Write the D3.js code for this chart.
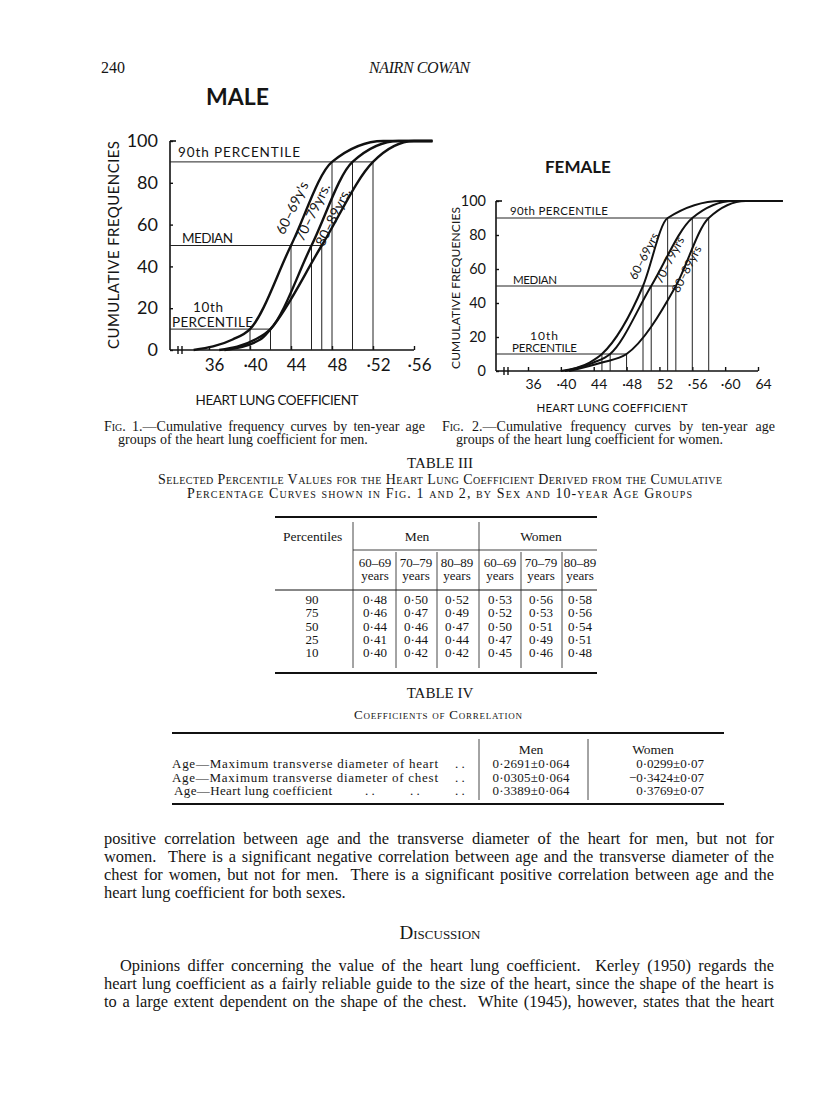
<!DOCTYPE html>
<html>
<head>
<meta charset="utf-8">
<script src="https://cdn.jsdelivr.net/npm/d3@7"></script>
<style>
  body { margin: 0; background: #fff; }
  svg text { fill: #151515; }
  .serif { font-family: 'Liberation Serif', 'Times New Roman', serif; }
  .fig { font-family: Lato, 'Noto Sans', sans-serif; }
</style>
</head>
<body>
<svg id="page" width="816" height="1117"></svg>
<script>
// ---- data ----
const percentiles = [90, 75, 50, 25, 10]
const ageGroups = ['60–69', '70–79', '80–89']

const men6069 = [0.48, 0.46, 0.44, 0.41, 0.40]
const men7079 = [0.50, 0.47, 0.46, 0.44, 0.42]
const men8089 = [0.52, 0.49, 0.47, 0.44, 0.42]
const women6069 = [0.53, 0.52, 0.50, 0.47, 0.45]
const women7079 = [0.56, 0.53, 0.51, 0.49, 0.46]
const women8089 = [0.58, 0.56, 0.54, 0.51, 0.48]

// curve tails: value at 0 %, value at 5 %, value where the curve reaches 100 %
const menTails = [[0.345, 0.383, 0.53], [0.37, 0.405, 0.545], [0.375, 0.41, 0.56]]
const womenTails = [[0.40, 0.435, 0.595], [0.405, 0.44, 0.61], [0.41, 0.45, 0.625]]
const menCurveEnd = 0.578
const womenCurveEnd = 0.67

const freqTicks = [0, 20, 40, 60, 80, 100]
const menTicks = [0.36, 0.40, 0.44, 0.48, 0.52, 0.56]
const menTickLabels = ['36', '·40', '44', '48', '·52', '·56']
const womenTicks = [0.36, 0.40, 0.44, 0.48, 0.52, 0.56, 0.60, 0.64]
const womenTickLabels = ['36', '·40', '44', '·48', '52', '·56', '·60', '64']
const menCurveNames = ['60–69y\'s', '70–79yrs.', '80–89yrs.']
const womenCurveNames = ['60–69yrs', '70–79yrs', '80–89yrs']

const corrLabels = ['Age—Maximum transverse diameter of heart', 'Age—Maximum transverse diameter of chest', 'Age—Heart lung coefficient']
const corrMen = ['0·2691±0·064', '0·0305±0·064', '0·3389±0·064']
const corrWomen = ['0·0299±0·07', '−0·3424±0·07', '0·3769±0·07']

const svg = d3.select('#page')
const fmt = v => d3.format('.2f')(v).replace('.', '·')

// ---- header ----
svg.append('text').attr('class', 'serif').attr('x', 101).attr('y', 73).attr('font-size', 16).text('240')
svg.append('text').attr('class', 'serif').attr('x', 369).attr('y', 73).attr('font-size', 16)
  .attr('font-style', 'italic').attr('textLength', 101).text('NAIRN COWAN')

// ---- one cumulative frequency chart ----
function drawChart(o) {
  const g = svg.append('g').attr('class', 'fig')
  const x = d3.scaleLinear().domain([o.ticks[0], o.ticks[o.ticks.length - 1]]).range(o.xRange)
  const y = d3.scaleLinear().domain([0, 100]).range(o.yRange)
  const y0 = y(0)

  g.append('text').attr('x', o.title[1]).attr('y', o.title[2]).attr('font-size', o.title[3])
    .attr('font-weight', 'bold').text(o.title[0])

  // x axis
  const xAxis = d3.axisBottom(x).tickValues(o.ticks).tickSize(-4).tickSizeOuter(0)
    .tickPadding(o.fs * 0.55).tickFormat((d, i) => o.tickLabels[i])
  const xa = g.append('g').attr('transform', `translate(0,${y0})`).call(xAxis)
  xa.select('.domain').remove()
  xa.selectAll('line').attr('stroke', '#111').attr('stroke-width', 1.4)
  xa.selectAll('text').attr('font-size', o.fs).attr('font-family', 'Lato, sans-serif')
    .attr('fill', '#151515').attr('dx', 5)
  g.append('line').attr('x1', o.axisX).attr('x2', x.range()[1]).attr('y1', y0).attr('y2', y0)
    .attr('stroke', '#111').attr('stroke-width', 1.6)
  // axis break
  g.selectAll('.brk').data([o.axisX + 8, o.axisX + 12]).enter().append('line')
    .attr('x1', d => d).attr('x2', d => d).attr('y1', y0 - 4).attr('y2', y0 + 4)
    .attr('stroke', '#111').attr('stroke-width', 1.4)

  // y axis
  const yAxis = d3.axisLeft(y).tickValues(freqTicks).tickSize(-3).tickSizeOuter(0).tickPadding(o.yPad)
  const ya = g.append('g').attr('transform', `translate(${o.axisX},0)`).call(yAxis)
  ya.select('.domain').remove()
  ya.selectAll('line').attr('stroke', '#111').attr('stroke-width', 1.4)
  ya.selectAll('text').attr('font-size', o.yfs).attr('font-family', 'Lato, sans-serif').attr('fill', '#151515')
  g.append('line').attr('x1', o.axisX).attr('x2', o.axisX).attr('y1', y0).attr('y2', y(100))
    .attr('stroke', '#111').attr('stroke-width', 1.6)
  g.append('line').attr('x1', o.axisX).attr('x2', o.axisX + 6).attr('y1', y(100)).attr('y2', y(100))
    .attr('stroke', '#111').attr('stroke-width', 1.6)

  // axis titles
  g.append('text').attr('transform', `translate(${o.yTitle[0]},${o.yTitle[1]}) rotate(-90)`)
    .attr('text-anchor', 'middle').attr('font-size', o.yTitle[2]).attr('textLength', o.yTitle[3])
    .attr('lengthAdjust', 'spacing').text('CUMULATIVE  FREQUENCIES')
  g.append('text').attr('x', o.xTitle[0]).attr('y', o.xTitle[1]).attr('text-anchor', 'middle')
    .attr('font-size', o.xTitle[2]).attr('textLength', o.xTitle[3]).attr('lengthAdjust', 'spacing')
    .text('HEART LUNG COEFFICIENT')

  // percentile guide lines (90th, median, 10th)
  const guideIdx = [0, 2, 4]
  guideIdx.forEach(k => {
    const p = percentiles[k]
    const vals = o.series.map(s => s[k])
    g.append('line').attr('x1', o.axisX).attr('x2', x(d3.max(vals))).attr('y1', y(p)).attr('y2', y(p))
      .attr('stroke', '#222').attr('stroke-width', 1)
    g.selectAll(null).data(vals).enter().append('line')
      .attr('x1', d => x(d)).attr('x2', d => x(d)).attr('y1', y0).attr('y2', y(p))
      .attr('stroke', '#222').attr('stroke-width', 1)
  })

  // guide labels
  const lab = (txt, dx, p, dy, fs, len) => g.append('text').attr('x', o.axisX + dx).attr('y', y(p) + dy)
    .attr('font-size', fs).attr('textLength', len).attr('lengthAdjust', 'spacing').text(txt)
  o.guideLabels.forEach(d => lab(...d))

  // curves: drawn through the 10th, 50th and 90th percentile values plus the read-off tails
  const line = d3.line().x(d => x(d[0])).y(d => y(d[1])).curve(d3.curveMonotoneX)
  o.series.forEach((s, i) => {
    const t = o.tails[i]
    const pts = [[t[0], 0], [t[1], 5]]
      .concat(guideIdx.map(k => [s[k], percentiles[k]]).reverse())
      .concat([[t[2], 100], [o.curveEnd, 100]])
    g.append('path').attr('d', line(pts)).attr('fill', 'none')
      .attr('stroke', '#111').attr('stroke-width', o.curveW)
  })

  // curve names
  o.names.forEach((n, i) => {
    const p = o.namePos[i]
    g.append('text').attr('transform', `translate(${x(p[0])},${y(p[1])}) rotate(${o.nameAngle})`)
      .attr('text-anchor', 'middle').attr('dy', '0.35em').attr('font-size', o.nameFs).text(n)
  })
}

drawChart({
  title: ['MALE', 206, 105, 23],
  ticks: menTicks, tickLabels: menTickLabels,
  xRange: [209, 414], yRange: [350, 141], axisX: 170,
  fs: 17, yfs: 18, yPad: 12,
  yTitle: [119, 245, 15, 208], xTitle: [277, 405, 13.5, 163],
  series: [men6069, men7079, men8089], tails: menTails, curveEnd: menCurveEnd,
  curveW: 2.4,
  guideLabels: [['90th PERCENTILE', 8, 90, -5, 13.5, 122], ['MEDIAN', 12, 50, -3, 13.5, 51],
    ['10th', 23, 10, -17, 13.5, 30], ['PERCENTILE', 2, 10, -2, 13.5, 81]],
  names: menCurveNames, namePos: [[0.441, 68], [0.461, 66], [0.481, 63.6]], nameAngle: -64, nameFs: 14
})

drawChart({
  title: ['FEMALE', 545, 173, 17],
  ticks: womenTicks, tickLabels: womenTickLabels,
  xRange: [528, 758], yRange: [371, 201], axisX: 496,
  fs: 14, yfs: 14.5, yPad: 10,
  yTitle: [460, 288, 12, 162], xTitle: [612, 412, 11.5, 151],
  series: [women6069, women7079, women8089], tails: womenTails, curveEnd: womenCurveEnd,
  curveW: 2,
  guideLabels: [['90th PERCENTILE', 14, 90, -3, 11.5, 98], ['MEDIAN', 17, 50, -2, 11.5, 44],
    ['10th', 34, 10, -14, 12, 28], ['PERCENTILE', 16, 10, -2, 11.5, 65]],
  names: womenCurveNames, namePos: [[0.501, 67.6], [0.532, 65.3], [0.553, 60]], nameAngle: -63, nameFs: 12
})

// ---- justified text helper ----
function justify(str, x0, x1, y, fs, full = true, firstSmallCaps = false) {
  const tokens = str.split(' ')
  const g = svg.append('g').attr('class', 'serif').attr('font-size', fs)
  const nodes = []
  tokens.forEach((w, i) => {
    if (!w) { nodes.push(null); return }
    const t = g.append('text').attr('y', y).text(w)
    if (firstSmallCaps && i === 0) t.attr('font-variant', 'small-caps')
    nodes.push(t)
  })
  const widths = nodes.map(n => n ? n.node().getComputedTextLength() : 0)
  const gaps = tokens.length - 1
  const gap = full ? (x1 - x0 - d3.sum(widths)) / gaps : fs * 0.27
  let cx = x0
  nodes.forEach((n, i) => {
    if (n) n.attr('x', cx)
    cx += widths[i] + gap
  })
}

// ---- figure captions ----
justify('Fig. 1.—Cumulative frequency curves by ten-year age', 104, 425, 431, 14, true, true)
justify('groups of the heart lung coefficient for men.', 118, 340, 444, 14, false)
justify('Fig. 2.—Cumulative frequency curves by ten-year age', 442, 775, 431, 14, true, true)
justify('groups of the heart lung coefficient for women.', 456, 742, 444, 14, false)

// ---- Table III ----
const t3 = svg.append('g').attr('class', 'serif')
t3.append('text').attr('x', 440).attr('y', 468).attr('text-anchor', 'middle').attr('font-size', 15).text('TABLE III')
t3.append('text').attr('x', 158).attr('y', 484).attr('font-size', 14).attr('font-variant', 'small-caps')
  .attr('textLength', 564).attr('lengthAdjust', 'spacing')
  .text('Selected Percentile Values for the Heart Lung Coefficient Derived from the Cumulative')
t3.append('text').attr('x', 187).attr('y', 498).attr('font-size', 14).attr('font-variant', 'small-caps')
  .attr('textLength', 505).attr('lengthAdjust', 'spacing')
  .text('Percentage Curves shown in Fig. 1 and 2, by Sex and 10-year Age Groups')

const colX = [375, 416, 457, 500, 541, 580]
const rowY = d3.scaleLinear().domain([0, 4]).range([604, 657])
const hr = (g, x1, x2, y, w) => g.append('line').attr('x1', x1).attr('x2', x2).attr('y1', y).attr('y2', y)
  .attr('stroke', '#111').attr('stroke-width', w)
const vr = (g, x, y1, y2) => g.append('line').attr('x1', x).attr('x2', x).attr('y1', y1).attr('y2', y2)
  .attr('stroke', '#333').attr('stroke-width', 0.9)

hr(t3, 275, 597, 517, 2)
hr(t3, 353, 597, 550, 0.8)
hr(t3, 275, 597, 590, 1)
hr(t3, 275, 597, 673, 2)
vr(t3, 353, 522, 668); vr(t3, 479, 522, 668)
;[396, 437, 521, 562].forEach(xx => vr(t3, xx, 552, 668))

t3.append('text').attr('x', 283).attr('y', 541).attr('font-size', 13.5).text('Percentiles')
t3.append('text').attr('x', 417).attr('y', 541).attr('font-size', 13.5).attr('text-anchor', 'middle').text('Men')
t3.append('text').attr('x', 541).attr('y', 541).attr('font-size', 13.5).attr('text-anchor', 'middle').text('Women')
colX.forEach((cx, i) => {
  t3.append('text').attr('x', cx).attr('y', 566.5).attr('font-size', 13).attr('text-anchor', 'middle').text(ageGroups[i % 3])
  t3.append('text').attr('x', cx).attr('y', 580).attr('font-size', 13).attr('text-anchor', 'middle').text('years')
})
const tableSeries = [men6069, men7079, men8089, women6069, women7079, women8089]
percentiles.forEach((p, r) => {
  t3.append('text').attr('x', 312).attr('y', rowY(r)).attr('font-size', 13).attr('text-anchor', 'middle').text(p)
  tableSeries.forEach((s, c) => {
    t3.append('text').attr('x', colX[c]).attr('y', rowY(r)).attr('font-size', 13)
      .attr('text-anchor', 'middle').attr('textLength', 24).attr('lengthAdjust', 'spacing').text(fmt(s[r]))
  })
})

// ---- Table IV ----
const t4 = svg.append('g').attr('class', 'serif')
t4.append('text').attr('x', 440).attr('y', 698).attr('text-anchor', 'middle').attr('font-size', 15).text('TABLE IV')
t4.append('text').attr('x', 354).attr('y', 719).attr('font-size', 13).attr('font-variant', 'small-caps')
  .attr('textLength', 168).attr('lengthAdjust', 'spacing').text('Coefficients of Correlation')
hr(t4, 172, 724, 733, 2)
hr(t4, 172, 724, 804, 2)
vr(t4, 479, 739, 800); vr(t4, 588, 739, 800)
t4.append('text').attr('x', 531).attr('y', 754).attr('font-size', 13.5).attr('text-anchor', 'middle').text('Men')
t4.append('text').attr('x', 653).attr('y', 754).attr('font-size', 13.5).attr('text-anchor', 'middle').text('Women')
const corrY = d3.scaleLinear().domain([0, 2]).range([768, 795])
corrLabels.forEach((l, i) => {
  t4.append('text').attr('x', i === 2 ? 174 : 172).attr('y', corrY(i)).attr('font-size', 13)
    .attr('textLength', i === 2 ? 158 : 266).attr('lengthAdjust', 'spacing').text(l)
  t4.append('text').attr('x', 455).attr('y', corrY(i)).attr('font-size', 13).text('. .')
  t4.append('text').attr('x', 531).attr('y', corrY(i)).attr('font-size', 13).attr('text-anchor', 'middle')
    .attr('textLength', 77).attr('lengthAdjust', 'spacing').text(corrMen[i])
  t4.append('text').attr('x', 704).attr('y', corrY(i)).attr('font-size', 13).attr('text-anchor', 'end').text(corrWomen[i])
})
;[365, 410].forEach(xx => t4.append('text').attr('x', xx).attr('y', corrY(2)).attr('font-size', 13).text('. .'))

// ---- body text ----
const body = [
  'positive correlation between age and the transverse diameter of the heart for men, but not for',
  'women.  There is a significant negative correlation between age and the transverse diameter of the',
  'chest for women, but not for men.  There is a significant positive correlation between age and the',
  'heart lung coefficient for both sexes.'
]
body.forEach((l, i) => justify(l, 104, 774, 844 + i * 18, 16.4, i < 3))
svg.append('text').attr('class', 'serif').attr('x', 440).attr('y', 939).attr('text-anchor', 'middle')
  .attr('font-size', 19).attr('font-variant', 'small-caps').text('Discussion')
const para = [
  'Opinions differ concerning the value of the heart lung coefficient.  Kerley (1950) regards the',
  'heart lung coefficient as a fairly reliable guide to the size of the heart, since the shape of the heart is',
  'to a large extent dependent on the shape of the chest.  White (1945), however, states that the heart'
]
para.forEach((l, i) => justify(l, i === 0 ? 120 : 104, 774, 971 + i * 18, 16.4, true))
</script>
</body>
</html>
